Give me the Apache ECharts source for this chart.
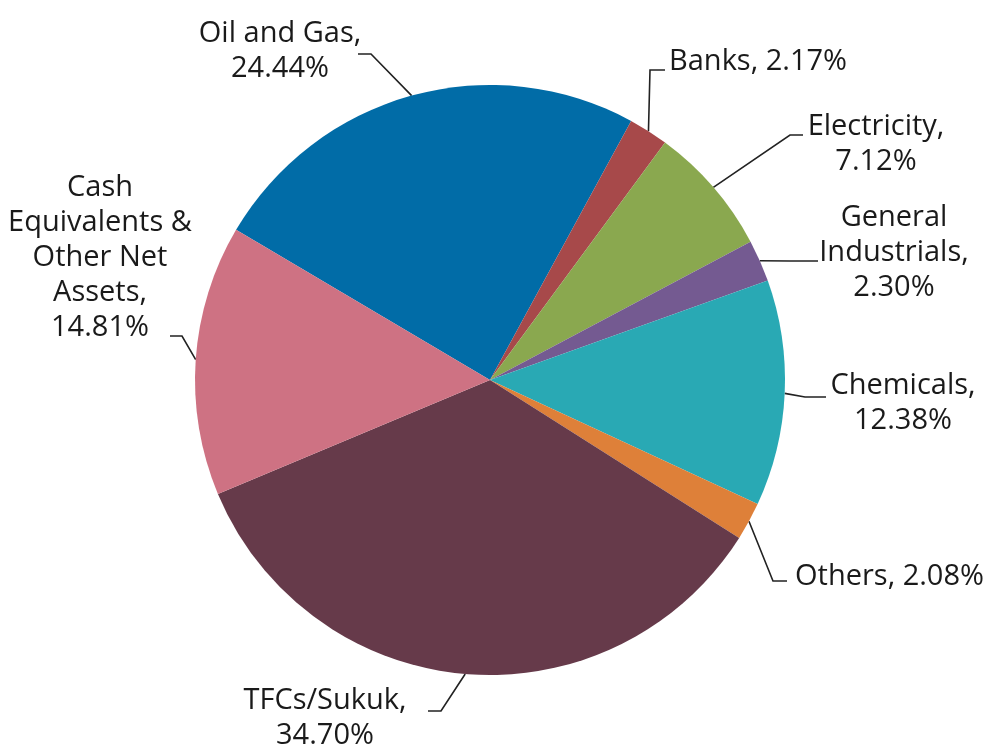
<!DOCTYPE html>
<html>
<head>
<meta charset="utf-8">
<script src="https://cdn.jsdelivr.net/npm/echarts@6/dist/echarts.min.js"></script>
<style>
  html, body { margin: 0; padding: 0; background: #fff; }
  #chart { width: 992px; height: 746px; }
</style>
</head>
<body>
<div id="chart"></div>
<script>
// sector names and weights (%), clockwise starting from Oil and Gas
const categories = ['Oil and Gas', 'Banks', 'Electricity', 'General Industrials',
  'Chemicals', 'Others', 'TFCs/Sukuk', 'Cash Equivalents & Other Net Assets']
const values = [24.44, 2.17, 7.12, 2.30, 12.38, 2.08, 34.70, 14.81]
// how each label is broken into lines
const labelText = ['Oil and Gas,', 'Banks,', 'Electricity,', 'General\nIndustrials,',
  'Chemicals,', 'Others,', 'TFCs/Sukuk,', 'Cash\nEquivalents &\nOther Net\nAssets,']
const sameLine = [false, true, false, false, false, true, false, false]
const colors = ['#016CA7', '#A7494A', '#8AA84F', '#745A91', '#29A9B4', '#DE8039', '#663A4A', '#CE7283']

// label anchor + leader elbow/end for each slice
const labelPos = [
  { x: 280, y: 51, align: 'center', pts: [[371, 54], [358, 54]] },
  { x: 669, y: 62, align: 'left', pts: [[650, 70], [665, 70]] },
  { x: 876, y: 144, align: 'center', pts: [[790, 135], [803, 135]] },
  { x: 894, y: 253, align: 'center', pts: [[790, 261], [818, 261]] },
  { x: 903, y: 403, align: 'center', pts: [[805, 397], [826, 397]] },
  { x: 795, y: 577, align: 'left', pts: [[773, 581], [787, 581]] },
  { x: 325, y: 718, align: 'center', pts: [[441, 711], [428, 711]] },
  { x: 100, y: 258, align: 'center', pts: [[182, 336], [170, 336]] }
]

const chart = echarts.init(document.getElementById('chart'))

const data = categories.map((c, i) => ({
  name: c,
  value: values[i],
  itemStyle: { color: colors[i] },
  label: {
    formatter: labelText[i] + (sameLine[i] ? ' ' : '\n') + values[i].toFixed(2) + '%'
  }
}))

chart.setOption({
  backgroundColor: '#fff',
  animation: false,
  series: [{
    type: 'pie',
    center: [490, 380],
    radius: 295,
    startAngle: 149.4,
    clockwise: true,
    data: data,
    itemStyle: { borderWidth: 0 },
    label: {
      show: true,
      position: 'outside',
      fontFamily: 'Open Sans',
      fontSize: 29,
      lineHeight: 35,
      color: '#1a1a1a',
      align: 'center',
      overflow: 'none'
    },
    labelLine: {
      show: true,
      lineStyle: { color: '#222', width: 1.6 }
    },
    labelLayout: function (params) {
      const p = labelPos[params.dataIndex]
      const start = params.labelLinePoints ? params.labelLinePoints[0] : p.pts[0]
      return {
        x: p.x,
        y: p.y,
        align: p.align,
        verticalAlign: 'middle',
        labelLinePoints: [start, p.pts[0], p.pts[1]]
      }
    }
  }]
})
</script>
</body>
</html>
